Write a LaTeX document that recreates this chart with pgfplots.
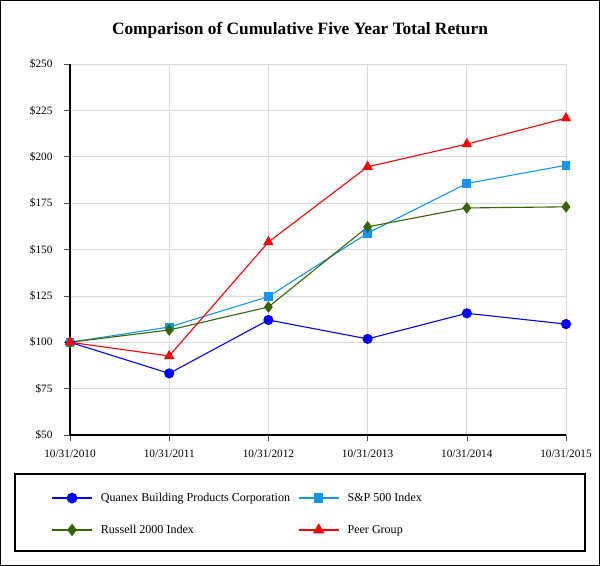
\documentclass[border=0pt]{standalone}
\usepackage{fontspec}
\setmainfont{Liberation Serif}
\usepackage{pgfplots}
\pgfplotsset{compat=1.18}
\definecolor{qblue}{RGB}{0,0,255}
\definecolor{spblue}{RGB}{20,150,240}
\definecolor{rgreen}{RGB}{51,102,0}
\definecolor{pred}{RGB}{255,0,0}
\begin{document}
\begin{tikzpicture}
\useasboundingbox (-70bp,-131bp) rectangle (530bp,435bp);
\draw[line width=1.2bp] (-69.4bp,-130.4bp) rectangle (529.4bp,434.4bp);
\node[font=\bfseries\fontsize{17.4}{20}\selectfont] at (230bp,405bp) {Comparison of Cumulative Five Year Total Return};
\draw[line width=1.2bp] (-55bp,-39bp) rectangle (515bp,-116bp);
\begin{axis}[
    at={(0,0)}, anchor=south west,
    scale only axis, width=496bp, height=371bp,
    xmin=0, xmax=5, ymin=50, ymax=250,
    xtick={0,1,2,3,4,5},
    xticklabels={10/31/2010,10/31/2011,10/31/2012,10/31/2013,10/31/2014,10/31/2015},
    ytick={50,75,100,125,150,175,200,225,250},
    yticklabel={\$\pgfmathprintnumber{\tick}},
    /pgf/number format/assume math mode=true,
    ticklabel style={font=\fontsize{11.3}{13}\selectfont},
    xticklabel style={yshift=-5bp},
    yticklabel style={xshift=-8bp},
    axis x line*=bottom, axis y line*=left,
    axis line style={line width=1.2bp,-},
    tick align=outside, major tick length=6bp,
    tick style={line width=0.6bp, black!70},
    grid=major, major grid style={black!15, line width=0.7bp},
    every axis plot/.append style={line width=1.1bp},
    legend columns=2,
    legend cell align=left,
    legend image code/.code={\draw[mark repeat=2,mark phase=2,line width=1.7bp,#1] plot coordinates {(0bp,0bp)(20bp,0bp)(40bp,0bp)};},
    legend style={draw=none, fill=none, at={(0,0)}, anchor=north west,
        xshift=-22bp, yshift=-54bp, font=\fontsize{12.1}{14}\selectfont,
        /tikz/row sep=18bp},
]
\addplot[color=qblue, mark=*, mark size=4.5bp, mark options={fill=qblue}] coordinates {
    (0,100)(1,83.2)(2,112)(3,101.8)(4,115.6)(5,109.8)};
\addlegendentry{\makebox[201bp][l]{\hspace{6bp}Quanex Building Products Corporation}}
\addplot[color=spblue, mark=square*, mark size=3.8bp, mark options={fill=spblue}] coordinates {
    (0,100)(1,108.2)(2,124.6)(3,158.8)(4,185.6)(5,195.4)};
\addlegendentry{\hspace{6bp}S\&P 500 Index}
\addplot[color=rgreen, mark=diamond*, mark size=5bp, mark options={fill=rgreen}] coordinates {
    (0,100)(1,106.6)(2,119)(3,162.2)(4,172.4)(5,173)};
\addlegendentry{\makebox[201bp][l]{\hspace{6bp}Russell 2000 Index}}
\addplot[color=pred, mark=triangle*, mark size=5bp, mark options={fill=pred}] coordinates {
    (0,100)(1,92.6)(2,154)(3,194.6)(4,206.8)(5,220.8)};
\addlegendentry{\hspace{6bp}Peer Group}
\end{axis}
\end{tikzpicture}
\end{document}
